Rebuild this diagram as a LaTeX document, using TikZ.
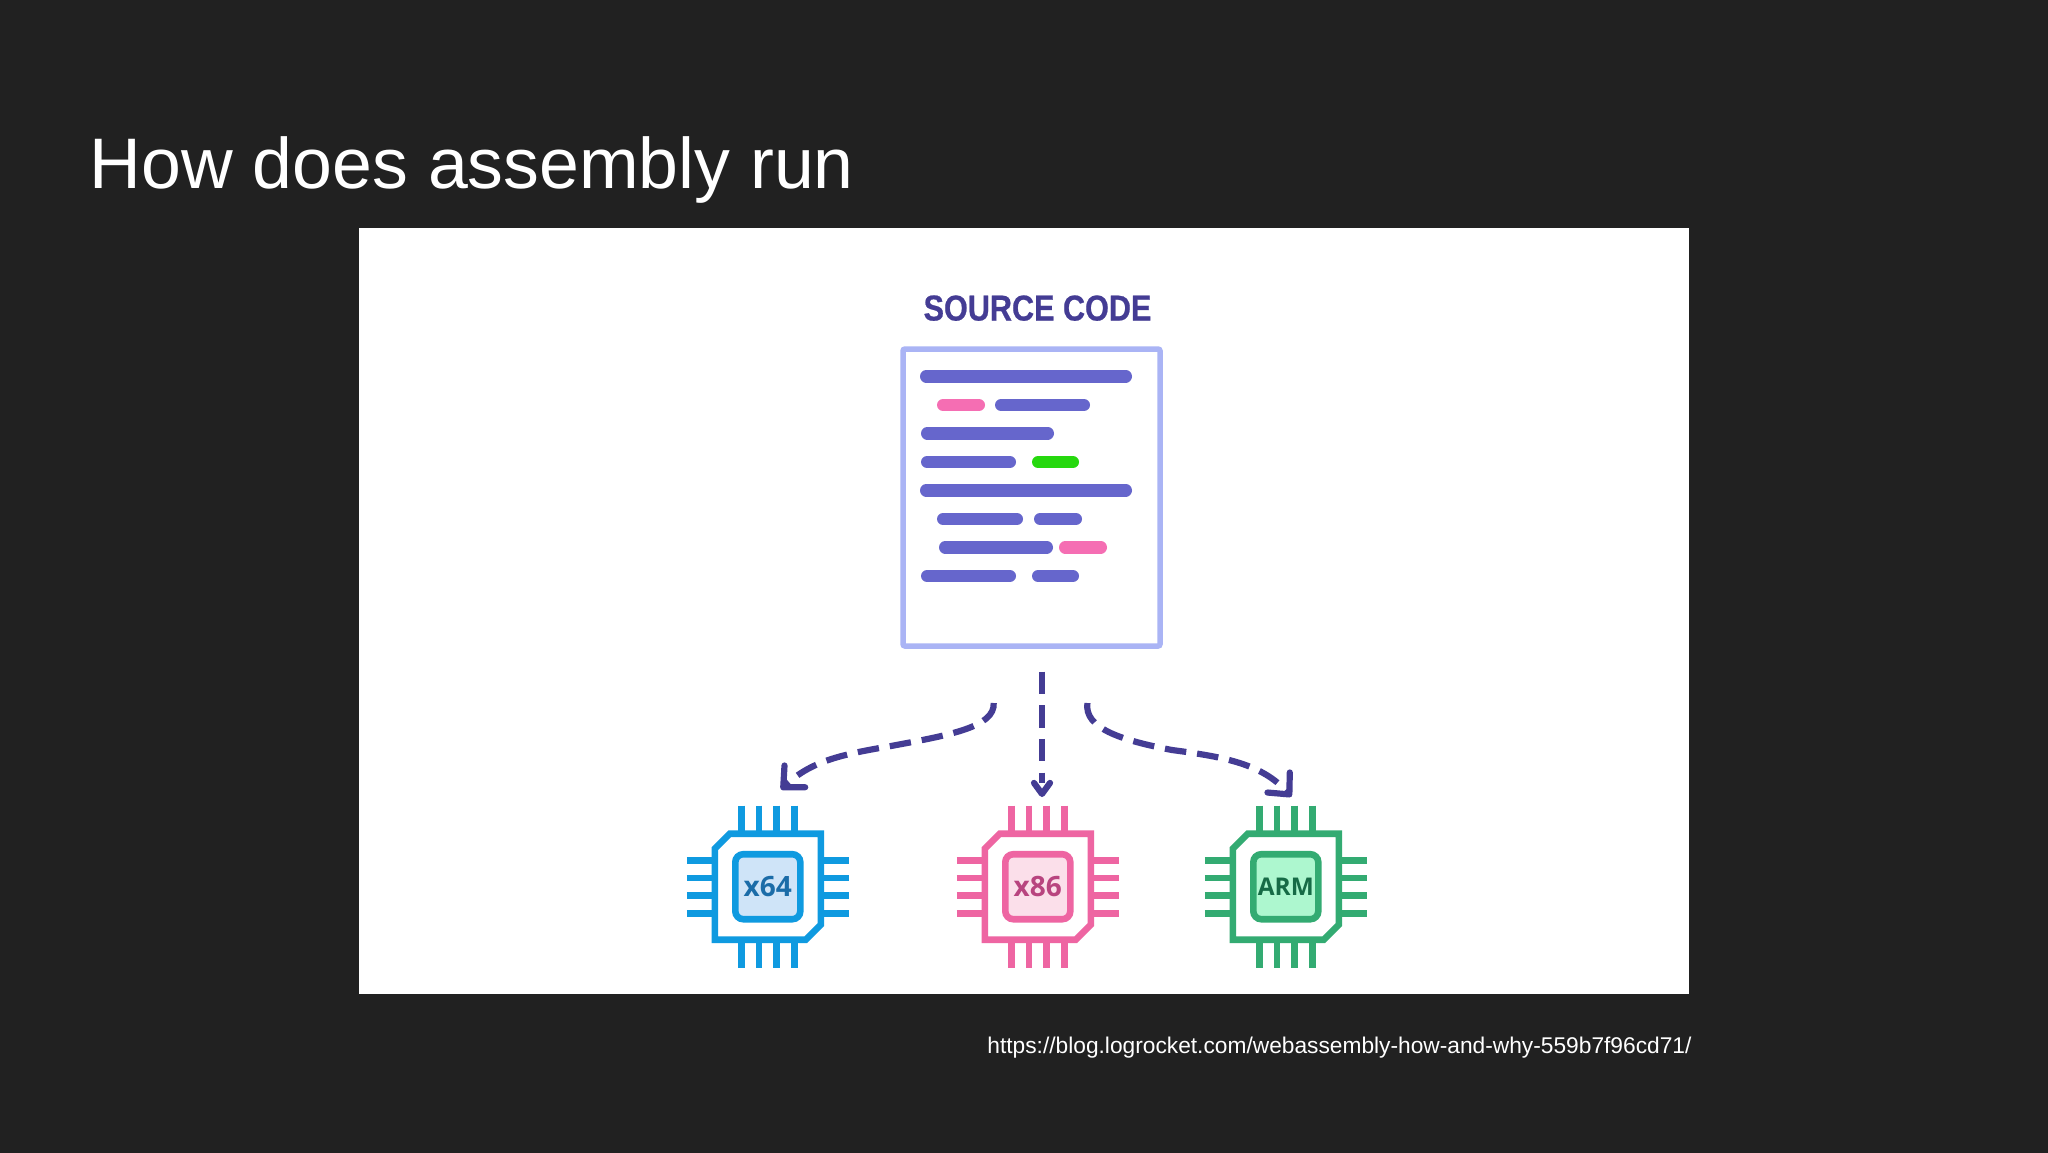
\documentclass[tikz,border=0pt]{standalone}
\usepackage{fontspec}
\usetikzlibrary{arrows.meta,positioning}
\setmainfont{Liberation Sans}
\newfontfamily\srcfont[FakeStretch=0.85,FakeBold=0.6]{Liberation Sans}
\newfontfamily\chipfont{Open Sans}

\definecolor{slidebg}{HTML}{212121}
\definecolor{srcink}{HTML}{443C94}
\definecolor{docedge}{HTML}{AAB4F5}
\definecolor{barblue}{HTML}{6666CC}
\definecolor{barpink}{HTML}{F56EB3}
\definecolor{bargreen}{HTML}{26D80E}
\definecolor{blueline}{HTML}{0F9AE0}
\definecolor{bluefill}{HTML}{CFE4F8}
\definecolor{bluetext}{HTML}{1B6CA8}
\definecolor{pinkline}{HTML}{EE65A2}
\definecolor{pinkfill}{HTML}{FBDFEA}
\definecolor{pinktext}{HTML}{B8447F}
\definecolor{greenline}{HTML}{33AB72}
\definecolor{greenfill}{HTML}{ADF7CF}
\definecolor{greentext}{HTML}{166B46}

\begin{document}
\begin{tikzpicture}[x=0.5pt,y=-0.5pt,
    slidetext/.style={text=white,inner sep=0pt,anchor=base west},
    bar/.style={line width=6.2pt,line cap=round},
    pin/.style={line width=3.4pt},
    flow/.style={draw=srcink,line width=3.1pt,dash pattern=on 10.75pt off 5.5pt},
    wide head/.style={-{Straight Barb[length=8pt,width=15pt,round=false]}},
    thin head/.style={-{Straight Barb[length=5.5pt,width=8pt,round=false]}}]

  \useasboundingbox (0,0) rectangle (2048,1152);
  \fill[slidebg] (-6,-6) rectangle (2054,1158);
  \fill[white] (359,228.4) rectangle (1689,994);

  \node[slidetext,font=\fontsize{35.8}{40}\selectfont] (title) at (89.5,188) {How does assembly run};
  \node[slidetext,font=\fontsize{11.37}{14}\selectfont] (url) at (987,1053) {https://blog.logrocket.com/webassembly-how-and-why-559b7f96cd71/};

  \node[draw=docedge,line width=2.75pt,rounded corners=1pt,fill=white,minimum width=128.5pt,minimum height=148.5pt,inner sep=0pt] (doc) at (1031.5,497.5) {};
  \node[text=srcink,font=\srcfont\bfseries\fontsize{18}{20}\selectfont,inner sep=0pt,above=12.5pt of doc,xshift=3pt] (srccode) {SOURCE CODE};

  % code lines of the page
  \foreach \xa/\xb/\ya/\barcol in {
      920/1132/376.3/barblue,
      937/985/405/barpink, 995/1090/405/barblue,
      921/1054/433.3/barblue,
      921/1016/462/barblue, 1032/1079/462/bargreen,
      920/1132/490.3/barblue,
      937/1023/519/barblue, 1034/1082/519/barblue,
      939/1053/547.3/barblue, 1059/1107/547.3/barpink,
      921/1016/576/barblue, 1032/1079/576/barblue}
    \draw[bar,\barcol] (\xa+6.2,\ya) -- (\xb-6.2,\ya);

  % the three chips
  \foreach \nm/\xc/\tone/\lab/\size in {
      x64/767.8/blue/x64/14,
      x86/1037.8/pink/x86/14,
      arm/1285.8/green/ARM/12.2}
  {
    \begin{scope}[shift={(\xc,886.7)}]
      \foreach \off in {-26.4,-8.8,8.8,26.4} {
        \draw[pin,\tone line] (\off,-81) -- (\off,-55);
        \draw[pin,\tone line] (\off,55) -- (\off,81);
        \draw[pin,\tone line] (-81,\off) -- (-55,\off);
        \draw[pin,\tone line] (55,\off) -- (81,\off);
      }
      \draw[line width=3.3pt,\tone line,fill=white,miter limit=4]
        (-38,-53) -- (53,-53) -- (53,38) -- (38,53) -- (-53,53) -- (-53,-38) -- cycle;
      \node[draw=\tone line,fill=\tone fill,line width=3.3pt,rounded corners=4pt,minimum size=32.5pt,inner sep=0pt,
            text=\tone text,font=\chipfont\bfseries\fontsize{\size}{14}\selectfont] (\nm) at (0,0) {\raisebox{-0.6pt}{\lab}};
    \end{scope}
  }

  \coordinate (fromleft) at (993.7,703);
  \coordinate (midleft) at (891,746);
  \coordinate (toleft) at (781,789.5);
  \coordinate (frommid) at (1042,671.7);
  \coordinate (tomid) at (1042,797);
  \coordinate (fromright) at (1087.4,703);
  \coordinate (midright) at (1172,750);
  \coordinate (toright) at (1291.4,796.7);

  \draw[flow,wide head] (fromleft) .. controls (995,727) and (950,735) .. (midleft)
                                   .. controls (845,754) and (812,760) .. (toleft);
  \draw[flow,thin head,dash pattern=on 11.2pt off 5.6pt on 11.2pt off 5.6pt on 11.2pt off 5.6pt on 5pt off 20pt] (frommid) -- (tomid);
  \draw[flow,wide head] (fromright) .. controls (1084,728) and (1120,740) .. (midright)
                                    .. controls (1225,757) and (1262,764) .. (toright);

\end{tikzpicture}
\end{document}
